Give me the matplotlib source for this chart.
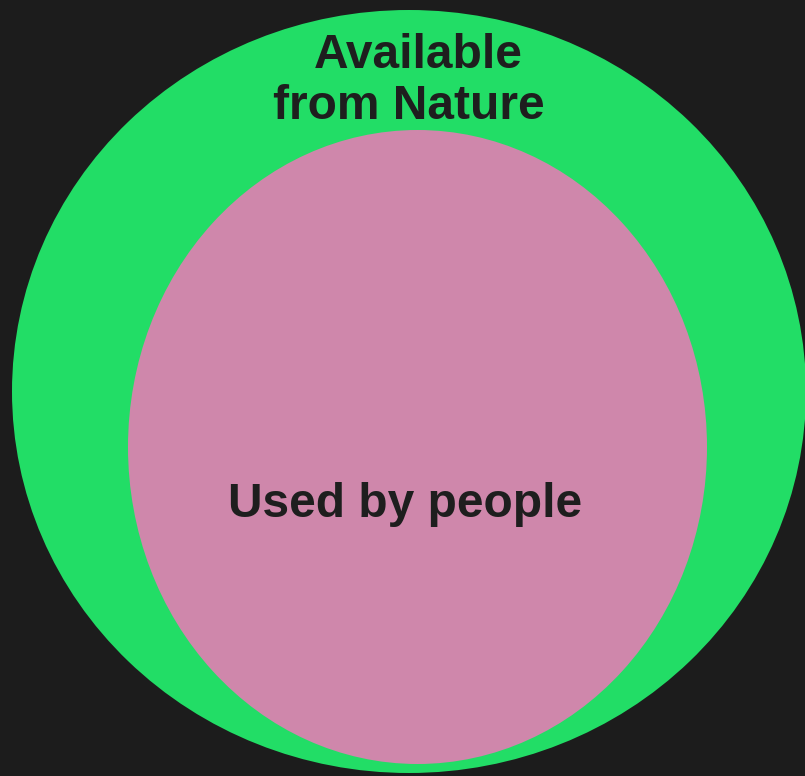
import matplotlib.pyplot as plt
from matplotlib.patches import Ellipse

# sets drawn as nested ellipses (pixel coords, y down)
names = ["Available from Nature", "Used by people"]
centers = [(409, 391.5), (417.5, 447)]
widths = [794, 579]
heights = [763, 634]
colors = ["#22dd66", "#cf87ab"]

bg = "#1c1c1c"
txt_col = "#1e1e1e"

fig = plt.figure(figsize=(8.05, 7.76), dpi=100, facecolor=bg)
ax = fig.add_axes([0, 0, 1, 1])
ax.set_facecolor(bg)
ax.set_xlim(0, 805)
ax.set_ylim(776, 0)
ax.axis("off")

for c, w, h, col in zip(centers, widths, heights, colors):
    ax.add_patch(Ellipse(c, w, h, facecolor=col, edgecolor="none"))

font = dict(family=["Liberation Sans", "DejaVu Sans"], fontsize=34.5,
            fontweight="bold", color=txt_col, ha="center", va="baseline")
ax.text(418, 68, "Available", **font)
ax.text(409, 119, "from Nature", **font)
ax.text(405.5, 517, names[1], **font)

fig.savefig("out.png", dpi=100, facecolor=bg)
